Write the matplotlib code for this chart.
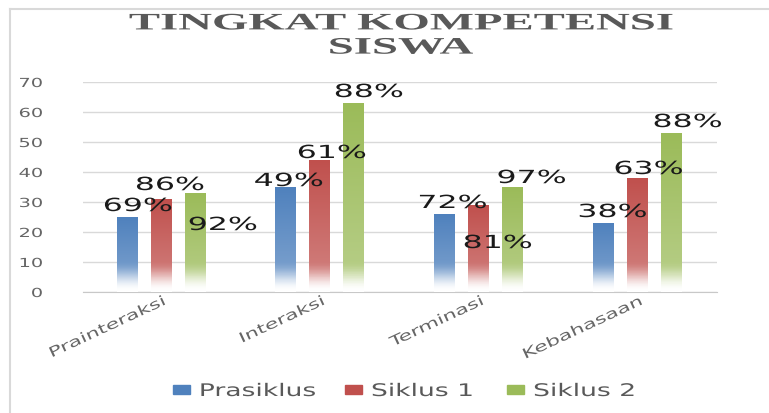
import numpy as np
import matplotlib
matplotlib.use("Agg")
import matplotlib.pyplot as plt
import matplotlib.patheffects as pe
from matplotlib.transforms import Affine2D, ScaledTranslation
from matplotlib.patches import Patch
from matplotlib.lines import Line2D
from matplotlib.colors import to_rgb

categories = ['Prainteraksi', 'Interaksi', 'Terminasi', 'Kebahasaan']
series = ['Prasiklus', 'Siklus 1', 'Siklus 2']
prasiklus = [25, 35, 26, 23]
siklus1 = [31, 44, 29, 38]
siklus2 = [33, 63, 35, 53]
labels_prasiklus = ['69%', '49%', '72%', '38%']
labels_siklus1 = ['86%', '61%', '81%', '63%']
labels_siklus2 = ['92%', '88%', '97%', '88%']
yticks = [0, 10, 20, 30, 40, 50, 60, 70]

colors = ['#4f81bd', '#c0504d', '#9bbb59']
# where excel left the data labels, pixel offset from top centre of each bar
label_offsets = [
    [(11, 11), (3, 6), (8, 11), (9, 11)],
    [(9, 14), (12, 7), (19, -38), (11, 9)],
    [(28, -32), (15, 11), (19, 9), (16, 11)],
]


class Stretch(pe.AbstractPathEffect):
    # the source picture is squashed wide, so widen the glyphs
    def __init__(self, sx, anchor='center'):
        super().__init__()
        self.sx = sx
        self.anchor = anchor

    def draw_path(self, renderer, gc, tpath, affine, rgbFace=None):
        bb = tpath.get_extents()
        if self.anchor == 'left':
            cx = bb.x0
        elif self.anchor == 'right':
            cx = bb.x1
        else:
            cx = (bb.x0 + bb.x1) / 2
        a = Affine2D().translate(-cx, 0).scale(self.sx, 1).translate(cx, 0) + affine
        renderer.draw_path(gc, tpath, a, rgbFace)


def fill_gradient(ax, rect, color):
    x0, w, h = rect.get_x(), rect.get_width(), rect.get_height()
    ys = np.linspace(0, h, 300)
    t = np.clip((ys - 0.3) / 10.0, 0, 1)
    fade = t * t * (3 - 2 * t)
    weight = fade * (0.7 + 0.3 * ys / h)
    rgb = np.array(to_rgb(color))
    img = 1 - weight[:, None] * (1 - rgb)
    im = ax.imshow(img[:, None, :], extent=[x0, x0 + w, 0, h], origin='lower',
                   aspect='auto', interpolation='nearest', zorder=3)
    im.set_clip_path(rect)
    rect.set_facecolor('none')
    rect.set_edgecolor('none')


fig = plt.figure(figsize=(7.69, 4.14), dpi=100)
W, H = 769, 414
ax = fig.add_axes([83 / W, 1 - 293 / H, (717 - 83) / W, (293 - 83) / H])

x = np.arange(len(categories))
width = 0.13
step = 0.214
all_vals = [prasiklus, siklus1, siklus2]
all_labels = [labels_prasiklus, labels_siklus1, labels_siklus2]

for i in range(3):
    bars = ax.bar(x + (i - 1) * step, all_vals[i], width, zorder=3)
    for j, rect in enumerate(bars):
        fill_gradient(ax, rect, colors[i])
        dx, dy = label_offsets[i][j]
        ax.annotate(all_labels[i][j], xy=(rect.get_x() + rect.get_width() / 2, rect.get_height()),
                    xytext=(dx, dy), textcoords='offset pixels', ha='center', va='center',
                    fontsize=13, color='#1a1a1a', zorder=5,
                    path_effects=[Stretch(1.75)])

ax.set_xlim(-0.49, 3.5)
ax.set_ylim(0, 70)
ax.set_yticks(yticks)
ax.grid(axis='y', color='#d9d9d9', lw=1, zorder=0)
for gl in ax.get_ygridlines():
    gl.set_zorder(0)
for s in ['left', 'right', 'top']:
    ax.spines[s].set_visible(False)
ax.spines['bottom'].set_color('#c8c8c8')
ax.tick_params(axis='y', length=0, pad=29, labelsize=9, labelcolor='#666666')
for t in ax.get_yticklabels():
    t.set_path_effects([Stretch(1.55, 'right')])

ax.set_xticks(x)
ax.set_xticklabels(categories, rotation=25, ha='right', va='center', rotation_mode='anchor')
ax.tick_params(axis='x', length=0, pad=6, labelsize=10, labelcolor='#666666')
shift = ScaledTranslation(4 / 100, 0, fig.dpi_scale_trans)
for t in ax.get_xticklabels():
    t.set_transform(t.get_transform() + shift)
    t.set_path_effects([Stretch(1.55, 'right')])

handles = [Patch(color=c) for c in colors]
leg = fig.legend(handles, series, loc='center', bbox_to_anchor=(387 / W, 1 - 392 / H),
                 ncol=3, frameon=False, fontsize=12.5, handlelength=1.0, handleheight=0.4,
                 handletextpad=0.55, columnspacing=3.9, borderpad=0)
for t in leg.get_texts():
    t.set_color('#595959')
    t.set_path_effects([Stretch(1.53, 'left')])

fig.text(401 / W, 1 - 37 / H, 'TINGKAT KOMPETENSI\nSISWA', ha='center', va='center',
         family='Liberation Serif', weight='bold', size=17, color='#595959',
         linespacing=1.2, path_effects=[Stretch(1.98)])

# light frame of the pasted chart
fig.add_artist(Line2D([10 / W, 10 / W], [0, 1 - 10 / H], transform=fig.transFigure,
                      color='#d9d9d9', lw=1.5))
fig.add_artist(Line2D([10 / W, 1], [1 - 10 / H, 1 - 10 / H], transform=fig.transFigure,
                      color='#d9d9d9', lw=1.5))

fig.savefig('out.png', dpi=100)
